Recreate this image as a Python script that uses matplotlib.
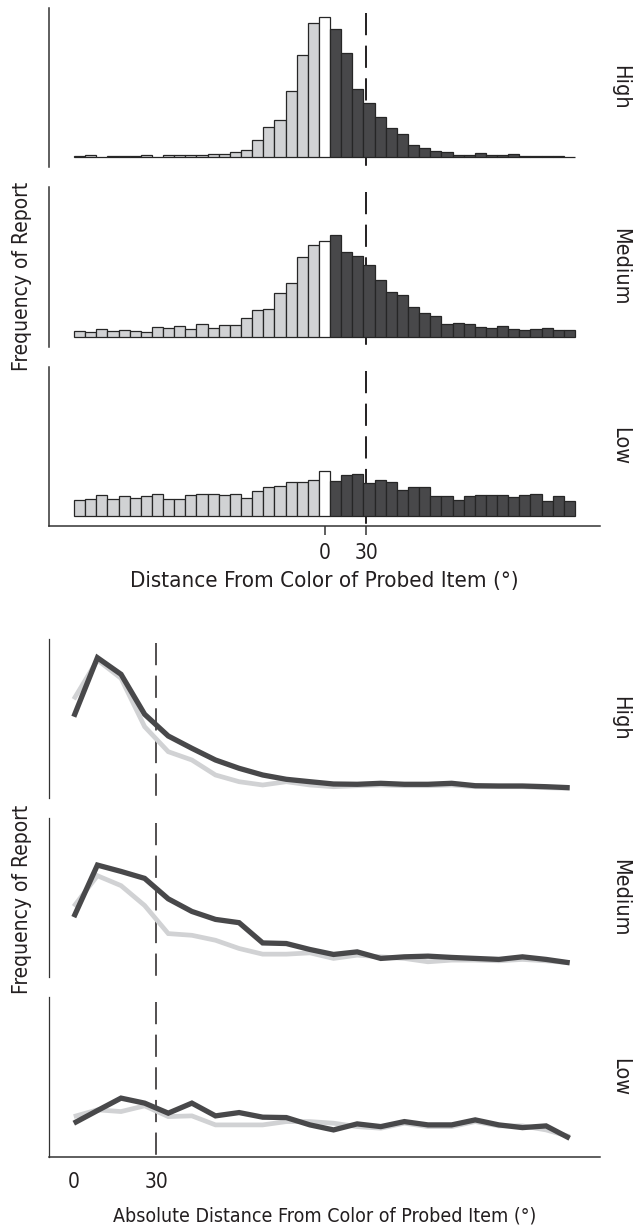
import matplotlib.pyplot as plt
import numpy as np

plt.rcParams['font.family'] = ['DejaVu Sans']
plt.rcParams['font.stretch'] = 'condensed'
plt.rcParams['lines.scale_dashes'] = False

W, H = 635, 1227

levels = ['High', 'Medium', 'Low']

# signed distance histograms, 8 degree bins from -180 to 180
bin_edges = np.arange(-180, 181, 8)
hist_high = [1.3, 2.3, 0.3, 1.7, 1.0, 1.3, 2.0, 0.3, 2.7, 2.7, 2.0, 2.0, 3.3, 3.7, 5.3,
             7.7, 17.0, 30.3, 37.3, 66.7, 102.7, 135.0,
             140.7,
             129.0, 105.0, 68.0, 54.7, 40.0, 29.7, 23.3, 12.3, 9.0, 6.3, 5.0, 2.3, 2.3,
             4.0, 2.0, 2.7, 3.0, 1.3, 1.3, 1.3, 1.0, 0.3]
hist_medium = [6.5, 4.7, 8.0, 6.3, 7.2, 6.2, 5.3, 9.7, 8.7, 11.2, 8.3, 13.2, 9.0, 12.0, 12.3,
               19.4, 27.4, 28.4, 44.0, 54.0, 79.4, 91.7,
               95.7,
               101.7, 85.0, 80.7, 71.4, 56.7, 44.4, 41.7, 30.0, 24.0, 21.0, 13.4, 14.3, 12.7,
               10.0, 9.0, 10.7, 8.3, 7.0, 7.7, 8.7, 6.7, 6.7]
hist_low = [16.7, 17.7, 21.7, 17.7, 20.0, 18.3, 20.0, 22.0, 17.0, 17.0, 21.0, 22.7, 22.7, 21.0,
            22.0, 18.7, 25.8, 29.2, 30.8, 34.2, 34.2, 36.5,
            45.4,
            35.2, 41.2, 42.2, 33.8, 36.5, 34.4, 26.7, 29.4, 29.4, 20.2, 20.0, 16.0, 20.0, 21.0,
            21.0, 21.0, 19.0, 21.0, 22.3, 15.7, 20.7, 15.7]
hists = [hist_high, hist_medium, hist_low]

# absolute distance curves
abs_dist = np.linspace(0, 180, 22)
dark_high = [81.3, 140.3, 123.7, 83.7, 62.0, 49.7, 38.0, 29.7, 23.0, 18.7, 16.3, 14.0, 13.7,
             14.7, 13.7, 13.7, 14.7, 12.3, 12.0, 12.0, 11.3, 10.3]
light_high = [98.7, 138.0, 119.7, 71.3, 46.3, 38.0, 23.0, 16.3, 13.0, 16.3, 13.0, 11.3, 12.3,
              13.0, 12.3, 12.3, 13.0, 11.3, 11.3, 11.3, 10.3, 9.7]
dark_medium = [60.0, 112.4, 106.0, 99.0, 78.4, 65.7, 57.7, 54.4, 34.0, 33.4, 27.4, 22.4, 25.0,
               18.4, 20.0, 20.7, 19.4, 18.4, 17.4, 20.0, 17.4, 14.0]
light_medium = [70.7, 101.7, 91.7, 71.7, 43.4, 41.7, 36.7, 28.4, 22.7, 22.7, 24.0, 18.4, 21.7,
                20.0, 18.4, 15.0, 16.7, 16.7, 16.0, 17.4, 16.0, 14.0]
dark_low = [33.4, 46.0, 58.4, 53.4, 43.4, 53.4, 40.7, 44.0, 39.4, 39.0, 31.7, 26.7, 32.7, 30.0,
            35.0, 31.7, 31.7, 36.7, 31.7, 29.0, 30.7, 18.4]
light_low = [40.0, 46.7, 45.0, 50.7, 40.0, 40.7, 31.7, 31.7, 31.7, 35.0, 35.0, 33.4, 30.0, 28.4,
             33.4, 30.0, 30.0, 35.0, 30.7, 30.7, 26.7, 20.0]
darks = [dark_high, dark_medium, dark_low]
lights = [light_high, light_medium, light_low]

LIGHT, DARK, INK = '#d1d2d4', '#48484a', '#231f20'


def px_axes(fig, top, bottom, left=49, right=600):
    return fig.add_axes([left / W, 1 - bottom / H, (right - left) / W, (bottom - top) / H])


def dashed30(ax, lw):
    ax.plot([30, 30], [0.97, 0], transform=ax.get_xaxis_transform(), color=INK, lw=lw,
            ls=(0, (16, 7.5)), solid_capstyle='butt', dash_capstyle='butt', zorder=1.5)


fig = plt.figure(figsize=(W / 100, H / 100), dpi=100)

# top: histograms
top_rows = [(8.3, 166.7), (186.7, 346.7), (366.7, 526)]
centers = bin_edges[:-1] + 4
colors = [LIGHT if c < 0 else ('white' if c == 0 else DARK) for c in centers]
for i, (lev, h, (t, b)) in enumerate(zip(levels, hists, top_rows)):
    ax = px_axes(fig, t, b)
    ax.bar(bin_edges[:-1], h, width=8, align='edge', color=colors, edgecolor='#262626',
           linewidth=0.9, zorder=2)
    dashed30(ax, 1.4)
    ax.set_xlim(-198, 198)
    ax.set_ylim(-9.5, 149.5)
    for s in ['top', 'right']:
        ax.spines[s].set_visible(False)
    ax.spines['left'].set_linewidth(1.1)
    ax.spines['left'].set_color('#333333')
    ax.set_yticks([])
    if i < 2:
        ax.spines['bottom'].set_visible(False)
        ax.set_xticks([])
    else:
        ax.spines['bottom'].set_linewidth(1.1)
        ax.spines['bottom'].set_color('#333333')
        ax.set_xticks([0, 30])
        ax.tick_params(axis='x', length=6.5, width=1.1, color='#333333', pad=6,
                       labelsize=15, labelcolor=INK)
    fig.text(620 / W, 1 - (t + b) / 2 / H, lev, rotation=270, ha='center', va='center',
             fontsize=15.5, color=INK)

fig.text(324.5 / W, 1 - 587 / H, 'Distance From Color of Probed Item (°)', ha='center',
         va='baseline', fontsize=16, color=INK)
fig.text(22.5 / W, 1 - 276 / H, 'Frequency of Report', rotation=90, ha='center',
         va='center', fontsize=15, color=INK)

# bottom: absolute distance curves
bot_rows = [(638.5, 798), (818.3, 976.7), (996.7, 1156.7)]
for i, (lev, d, l, (t, b)) in enumerate(zip(levels, darks, lights, bot_rows)):
    ax = px_axes(fig, t, b)
    dashed30(ax, 1.1)
    ax.plot(abs_dist, l, color=LIGHT, lw=3.4, solid_capstyle='butt', solid_joinstyle='miter',
            zorder=2)
    ax.plot(abs_dist, d, color=DARK, lw=3.8, solid_capstyle='butt', solid_joinstyle='miter',
            zorder=3)
    ax.set_xlim(-9, 191)
    ax.set_ylim(0, 159.5)
    for s in ['top', 'right']:
        ax.spines[s].set_visible(False)
    ax.spines['left'].set_linewidth(0.9)
    ax.spines['left'].set_color('#333333')
    ax.set_yticks([])
    if i < 2:
        ax.spines['bottom'].set_visible(False)
        ax.set_xticks([])
    else:
        ax.spines['bottom'].set_linewidth(1.1)
        ax.spines['bottom'].set_color('#333333')
        ax.set_xticks([0, 30])
        ax.tick_params(axis='x', length=0, pad=11, labelsize=15, labelcolor=INK)
    fig.text(620 / W, 1 - (t + b) / 2 / H, lev, rotation=270, ha='center', va='center',
             fontsize=15.5, color=INK)

fig.text(324.5 / W, 1 - 1221 / H, 'Absolute Distance From Color of Probed Item (°)',
         ha='center', va='baseline', fontsize=14, color=INK)
fig.text(22.5 / W, 1 - 899 / H, 'Frequency of Report', rotation=90, ha='center',
         va='center', fontsize=15, color=INK)

fig.savefig('out.png', dpi=100, facecolor='white')
